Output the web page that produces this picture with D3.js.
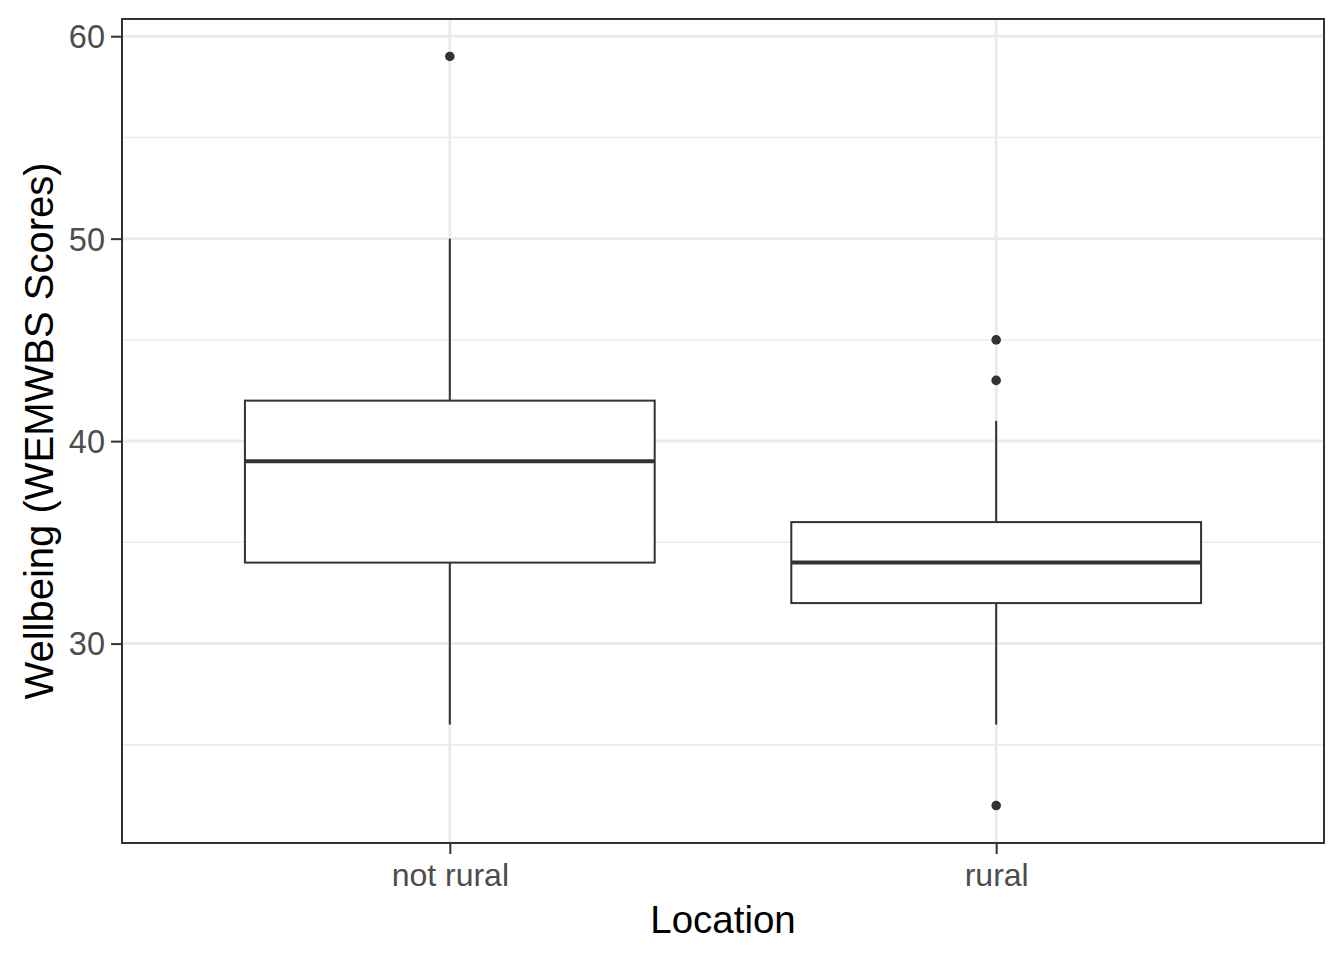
<!DOCTYPE html>
<html>
<head>
<meta charset="utf-8">
<script src="https://cdn.jsdelivr.net/npm/d3@7"></script>
<style>
  html, body { margin: 0; padding: 0; background: #fff; }
  svg { display: block; }
  text { font-family: "Liberation Sans", Arial, sans-serif; }
</style>
</head>
<body>
<svg id="chart" width="1344" height="960"></svg>
<script>
// Data
const categories = ["not rural", "rural"];
const lowerWhisker = [26, 26];
const q1 = [34, 32];
const median = [39, 34];
const q3 = [42, 36];
const upperWhisker = [50, 41];
const outliers = [[59], [45, 43, 22]];
const yTicks = [30, 40, 50, 60];
const yMinorTicks = [25, 35, 45, 55];
const xTitle = "Location";
const yTitle = "Wellbeing (WEMWBS Scores)";

const svg = d3.select("#chart");
const panel = { left: 122, right: 1324, top: 19, bottom: 843 };

// y domain: data range 22..59 expanded by 5%
const dataMin = 22, dataMax = 59;
const pad = (dataMax - dataMin) * 0.05;
const y = d3.scaleLinear().domain([dataMin - pad, dataMax + pad]).range([panel.bottom, panel.top]);

// discrete x: positions 1..n with 0.6 expansion
const x = d3.scaleLinear().domain([0.4, categories.length + 0.6]).range([panel.left, panel.right]);
const boxHalf = (x(1.75) - x(1)) / 2;

const g = svg.append("g");

g.append("rect").attr("x", panel.left).attr("y", panel.top)
  .attr("width", panel.right - panel.left).attr("height", panel.bottom - panel.top)
  .attr("fill", "#fff");

// minor grid
g.selectAll(".minor").data(yMinorTicks).join("line")
  .attr("x1", panel.left).attr("x2", panel.right)
  .attr("y1", d => y(d)).attr("y2", d => y(d))
  .attr("stroke", "#EBEBEB").attr("stroke-width", 1.5);

// major grid
g.selectAll(".majorY").data(yTicks).join("line")
  .attr("x1", panel.left).attr("x2", panel.right)
  .attr("y1", d => y(d)).attr("y2", d => y(d))
  .attr("stroke", "#EBEBEB").attr("stroke-width", 3);
g.selectAll(".majorX").data(categories).join("line")
  .attr("x1", (d, i) => x(i + 1)).attr("x2", (d, i) => x(i + 1))
  .attr("y1", panel.top).attr("y2", panel.bottom)
  .attr("stroke", "#EBEBEB").attr("stroke-width", 3);

const stroke = "#333333";

categories.forEach((c, i) => {
  const cx = x(i + 1);
  const bg = g.append("g");
  bg.append("line").attr("x1", cx).attr("x2", cx)
    .attr("y1", y(q3[i])).attr("y2", y(upperWhisker[i]))
    .attr("stroke", stroke).attr("stroke-width", 2);
  bg.append("line").attr("x1", cx).attr("x2", cx)
    .attr("y1", y(q1[i])).attr("y2", y(lowerWhisker[i]))
    .attr("stroke", stroke).attr("stroke-width", 2);
  bg.append("rect").attr("x", cx - boxHalf).attr("y", y(q3[i]))
    .attr("width", boxHalf * 2).attr("height", y(q1[i]) - y(q3[i]))
    .attr("fill", "#fff").attr("stroke", stroke).attr("stroke-width", 2);
  bg.append("line").attr("x1", cx - boxHalf).attr("x2", cx + boxHalf)
    .attr("y1", y(median[i])).attr("y2", y(median[i]))
    .attr("stroke", stroke).attr("stroke-width", 4);
  bg.selectAll("circle").data(outliers[i]).join("circle")
    .attr("cx", cx).attr("cy", d => y(d)).attr("r", 4.8)
    .attr("fill", stroke);
});

// panel border
g.append("rect").attr("x", panel.left).attr("y", panel.top)
  .attr("width", panel.right - panel.left).attr("height", panel.bottom - panel.top)
  .attr("fill", "none").attr("stroke", stroke).attr("stroke-width", 2);

// y axis
const yAxis = d3.axisLeft(y).tickValues(yTicks).tickSize(11).tickPadding(6).tickFormat(d3.format("d"));
const ya = svg.append("g").attr("transform", `translate(${panel.left},0)`).call(yAxis);
ya.select(".domain").remove();
ya.selectAll(".tick line").attr("stroke", stroke).attr("stroke-width", 2);
ya.selectAll(".tick text").attr("fill", "#4D4D4D").attr("font-size", 32.5)
  .attr("font-family", "Liberation Sans, Arial, sans-serif").attr("dy", "0.35em");

// x axis
const xAxis = d3.axisBottom(x).tickValues(categories.map((c, i) => i + 1))
  .tickFormat((d) => categories[d - 1]).tickSize(11).tickPadding(9);
const xa = svg.append("g").attr("transform", `translate(0,${panel.bottom})`).call(xAxis);
xa.select(".domain").remove();
xa.selectAll(".tick line").attr("stroke", stroke).attr("stroke-width", 2);
xa.selectAll(".tick text").attr("fill", "#4D4D4D").attr("font-size", 32)
  .attr("font-family", "Liberation Sans, Arial, sans-serif").attr("dy", "0.71em");

// titles
svg.append("text").attr("x", (panel.left + panel.right) / 2).attr("y", 933)
  .attr("text-anchor", "middle").attr("font-size", 38.5).attr("fill", "#000")
  .text(xTitle);
svg.append("text")
  .attr("transform", `translate(53,${(panel.top + panel.bottom) / 2}) rotate(-90)`)
  .attr("text-anchor", "middle").attr("font-size", 40).attr("fill", "#000")
  .text(yTitle);
</script>
</body>
</html>
